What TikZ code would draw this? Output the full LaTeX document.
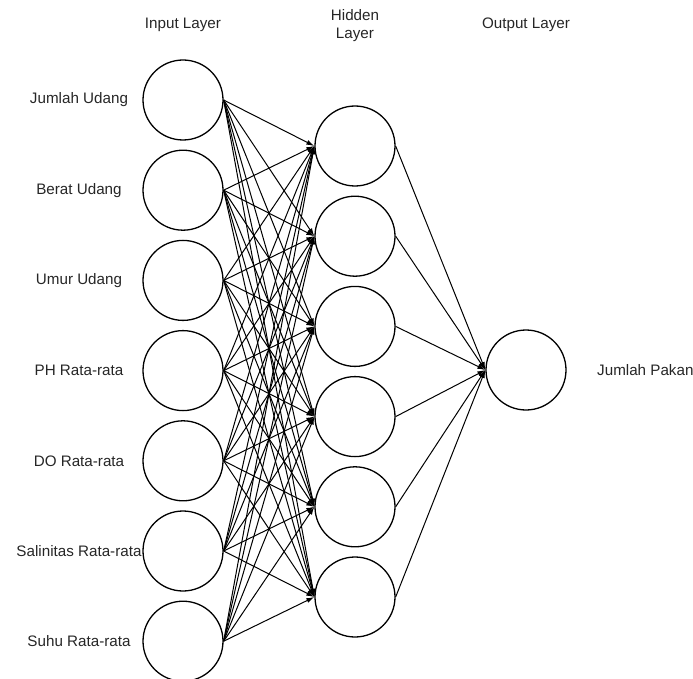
\documentclass[tikz,border=0pt]{standalone}
\usepackage{fontspec}
\setmainfont{Liberation Sans}
\usetikzlibrary{arrows.meta}
\begin{document}
\begin{tikzpicture}[x=1pt, y=-1pt, >={Latex[length=8pt,width=5pt]}, font=\fontsize{15.2}{18}\selectfont,
      neuron/.style={draw, circle, line width=1.3pt, minimum size=80pt, inner sep=0pt},
      lbl/.style={text=black!85, align=center, inner sep=0pt},
      link/.style={->, line width=1pt}]
    \useasboundingbox (0,0) rectangle (693,679);
    % layer titles
    \node[lbl] (tin) at (183,25) {Input Layer};
    \node[lbl] (thid) at (355,26) {Hidden\\Layer};
    \node[lbl] (tout) at (526,25) {Output Layer};
    % input layer
    \foreach \name [count=\i] in {Jumlah Udang, Berat Udang, Umur Udang, PH Rata-rata, DO Rata-rata, Salinitas Rata-rata, Suhu Rata-rata} {
      \node[neuron] (in\i) at (183,{100+90.2*(\i-1)}) {};
      \node[lbl] (lin\i) at (79,{100+90.2*(\i-1)}) {\name};
    }
    % hidden layer
    \foreach \j in {1,...,6}
      \node[neuron] (hid\j) at (355,{146+90.2*(\j-1)}) {};
    % output layer
    \node[neuron] (out) at (526,370) {};
    \node[lbl, anchor=west] (lout) at (597,370) {Jumlah Pakan};
    % connections
    \foreach \i in {1,...,7}
      \foreach \j in {1,...,6}
        \draw[link] (in\i.east) -- (hid\j.west);
    \foreach \j in {1,...,6}
      \draw[link] (hid\j.east) -- (out.west);
  \end{tikzpicture}
\end{document}
